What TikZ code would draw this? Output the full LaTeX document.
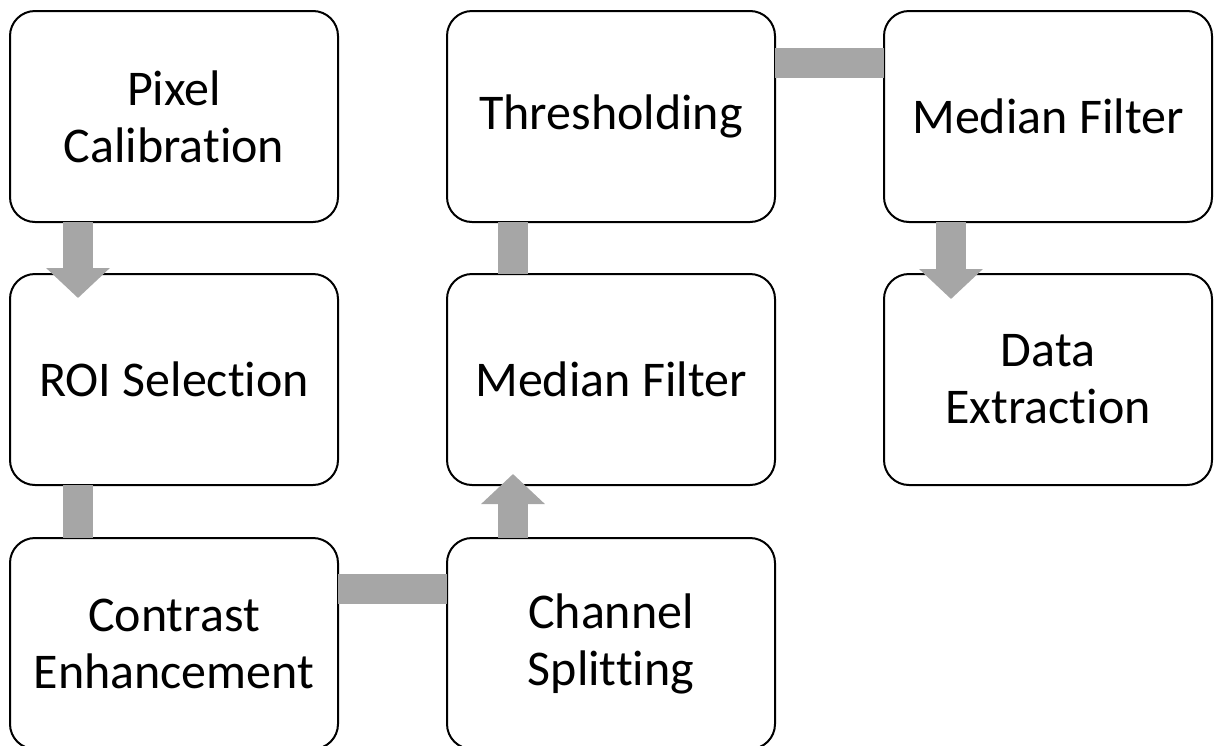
\documentclass[tikz,border=0pt]{standalone}
\usepackage{fontspec}
\setmainfont{Carlito}[Ligatures=NoCommon]
\usepackage{xcolor}
\usepackage{tikz}
\usetikzlibrary{calc, positioning, arrows.meta}

\definecolor{bargray}{HTML}{A6A6A6}

\begin{document}
\begin{tikzpicture}[x=1pt, y=-1pt,
    stage/.style={draw=black, line width=2pt, rounded corners=25pt, fill=white,
        minimum width=328pt, minimum height=211pt, inner sep=0pt, outer sep=0pt,
        align=center, font=\fontsize{50}{57}\selectfont},
    bar/.style={draw=bargray, line width=30pt},
    flow/.style={bar, -{Triangle[width=62pt, length=30pt]}}]
    % 1. Khung hinh
    \useasboundingbox (0,0) rectangle (1215,745);

    % 2. Cac buoc xu ly
    \node[stage] (pix) at (174,116.5) {Pixel\\Calibration};
    \node[stage, below=52pt of pix] (roi) {ROI Selection};
    \node[stage, below=53pt of roi] (con) {Contrast\\Enhancement};
    \node[stage, right=109pt of con] (chs) {Channel\\Splitting};
    \node[stage, above=53pt of chs] (medA) {Median Filter};
    \node[stage, above=52pt of medA] (thr) {Thresholding};
    \node[stage, right=109pt of thr] (medB) {Median Filter};
    \node[stage, below=52pt of medB] (dat) {Data\\Extraction};

    % 3. Cac mui ten va thanh noi
    \draw[flow] ($(pix.south west)+(68pt,0)$) -- ($(roi.north west)+(68pt,-24pt)$);
    \draw[bar] ($(roi.south west)+(68pt,0)$) -- ($(con.north west)+(68pt,0)$);
    \draw[bar] ($(con.north east)+(0,-51pt)$) -- ($(chs.north west)+(0,-51pt)$);
    \draw[flow] ($(chs.north west)+(66pt,0)$) -- ($(medA.south west)+(66pt,11pt)$);
    \draw[bar] ($(medA.north west)+(66pt,0)$) -- ($(thr.south west)+(66pt,0)$);
    \draw[bar] ($(thr.north east)+(0,-52pt)$) -- ($(medB.north west)+(0,-52pt)$);
    \draw[flow] ($(medB.south west)+(67pt,0)$) -- ($(dat.north west)+(67pt,-25pt)$);
\end{tikzpicture}
\end{document}
